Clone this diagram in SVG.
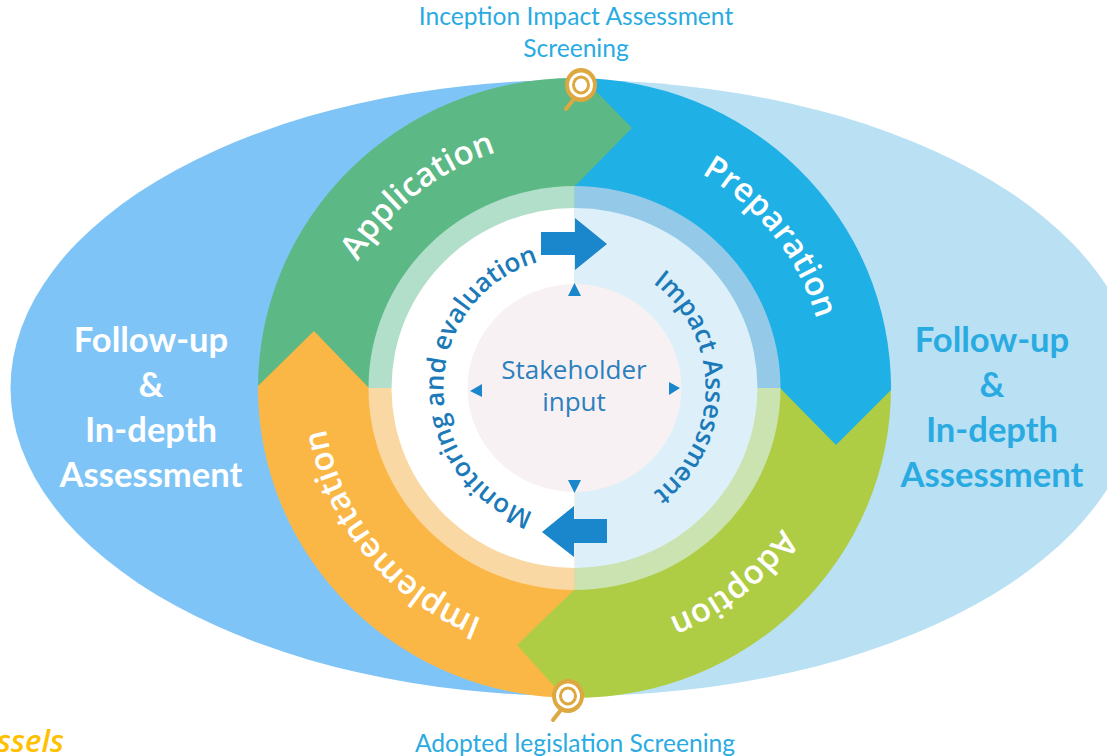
<svg xmlns="http://www.w3.org/2000/svg" width="1107" height="756" viewBox="0 0 1107 756">
<style>
.cap{font-family:Lato,"Liberation Sans",sans-serif;font-size:24.6px;fill:#29abe2;text-anchor:middle}
.fu{font-family:Lato,"Liberation Sans",sans-serif;font-size:34.6px;font-weight:700;text-anchor:middle}
.phase{font-family:"Open Sans","Liberation Sans",sans-serif;font-size:33px;font-weight:600;fill:#fff;text-anchor:middle}
.inner{font-family:"Open Sans","Liberation Sans",sans-serif;font-size:26px;font-weight:600;fill:#1c7ab8;text-anchor:middle}
.centre{font-family:"Open Sans","Liberation Sans",sans-serif;font-size:26px;fill:#2b80bd;text-anchor:middle}
.gold{fill:#dca83f}
</style>
<defs>
<path id="outerArc" d="M574.5 140A252 248 0 1 1 574.5 636A252 248 0 1 1 574.5 140Z"/>
<path id="innerArc" d="M574.5 257A131 131 0 1 1 574.5 519A131 131 0 1 1 574.5 257Z"/>
<g id="lens">
<line x1="-4" y1="10" x2="-15" y2="24" stroke="#dca83f" stroke-width="4" stroke-linecap="round"/>
<ellipse rx="16" ry="17" class="gold"/><ellipse rx="12" ry="12.5" fill="#fff"/><ellipse rx="9" ry="9.5" class="gold"/><ellipse rx="6" ry="6.5" fill="#fff"/>
</g>
</defs>
<rect width="1107" height="756" fill="#fff"/>
<g id="background">
<path d="M574.5 80A564 308 0 0 0 574.5 696Z" fill="#7fc4f6"/>
<path d="M574.5 80A564 308 0 0 1 574.5 696Z" fill="#bae0f4"/>
</g>
<g id="phases">
<g id="preparation"><path d="M574.5 388V78A316.5 310 0 0 1 891 388Z" fill="#1fb0e6"/></g>
<g id="adoption"><path d="M574.5 388H891A316.5 310 0 0 1 574.5 698Z" fill="#afcd44"/></g>
<g id="implementation"><path d="M574.5 388V698A316.5 310 0 0 1 258 388Z" fill="#fbb745"/></g>
<g id="application"><path d="M574.5 388H258A316.5 310 0 0 1 574.5 78Z" fill="#5cb885"/></g>
<polygon points="891,390 836,445 781,389 781,380 891,380" fill="#1fb0e6"/>
<polygon points="574,78 584,79 632,128 574,187" fill="#5cb885"/>
<polygon points="258,386 314,331 370,389 370,395 258,395" fill="#fbb745"/>
<polygon points="575,589 517,645 563,696 575,698" fill="#afcd44"/>
</g>
<g id="ring">
<path d="M574.5 388V186A206 202 0 0 1 780.5 388Z" fill="#94c9e8"/>
<path d="M574.5 388H780.5A206 202 0 0 1 574.5 590Z" fill="#cbe3b0"/>
<path d="M574.5 388V590A206 202 0 0 1 368.5 388Z" fill="#fad8a4"/>
<path d="M574.5 388H368.5A206 202 0 0 1 574.5 186Z" fill="#b2dfc9"/>
<path d="M574.5 208A183 180 0 0 1 574.5 568Z" fill="#ddf0f9"/>
<path d="M574.5 208A183 180 0 0 0 574.5 568Z" fill="#fff"/>
<ellipse cx="574.5" cy="388" rx="107" ry="104" fill="#f7f1f4"/>
</g>
<g id="connectors" fill="#1a86cb">
<polygon points="541,232 575,232 575,218 607,244 575,270 575,255 541,255"/>
<polygon points="607,519 574,519 574,506 542,532 574,557 574,543 607,543"/>
<polygon points="574.5,283 581,296 568,296"/>
<polygon points="574.5,493 581,480 568,480"/>
<polygon points="470,391 482,384 482,397"/>
<polygon points="680,388 669,382 669,395"/>
</g>
<g id="phase-labels">
<text class="phase"><textPath href="#outerArc" startOffset="89.2%">Application</textPath></text>
<text class="phase"><textPath href="#outerArc" startOffset="14.5%">Preparation</textPath></text>
<text class="phase"><textPath href="#outerArc" startOffset="39.2%">Adoption</textPath></text>
<text class="phase"><textPath href="#outerArc" startOffset="64.2%">Implementation</textPath></text>
<text class="inner"><textPath href="#innerArc" startOffset="75.3%">Monitoring and evaluation</textPath></text>
<text class="inner"><textPath href="#innerArc" startOffset="25%">Impact Assessment</textPath></text>
</g>
<g id="stakeholder">
<text class="centre" x="574" y="379">Stakeholder</text>
<text class="centre" x="574" y="411">input</text>
</g>
<g id="screening-top">
<use href="#lens" x="581" y="85"/>
<text class="cap" x="576" y="25">Inception Impact Assessment</text>
<text class="cap" x="576" y="57">Screening</text>
</g>
<g id="screening-bottom">
<use href="#lens" x="568" y="696"/>
<text class="cap" x="575" y="752">Adopted legislation Screening</text>
</g>
<g id="follow-left">
<text class="fu" fill="#fff" x="151" y="352">Follow-up</text>
<text class="fu" fill="#fff" x="151" y="397">&amp;</text>
<text class="fu" fill="#fff" x="151" y="442">In-depth</text>
<text class="fu" fill="#fff" x="151" y="487">Assessment</text>
</g>
<g id="follow-right">
<text class="fu" fill="#29abe2" x="992" y="352">Follow-up</text>
<text class="fu" fill="#29abe2" x="992" y="397">&amp;</text>
<text class="fu" fill="#29abe2" x="992" y="442">In-depth</text>
<text class="fu" fill="#29abe2" x="992" y="487">Assessment</text>
</g>
<text x="-3" y="752" font-family="Open Sans, sans-serif" font-style="italic" font-size="31" font-weight="600" fill="#ffc000">ssels</text>
</svg>
